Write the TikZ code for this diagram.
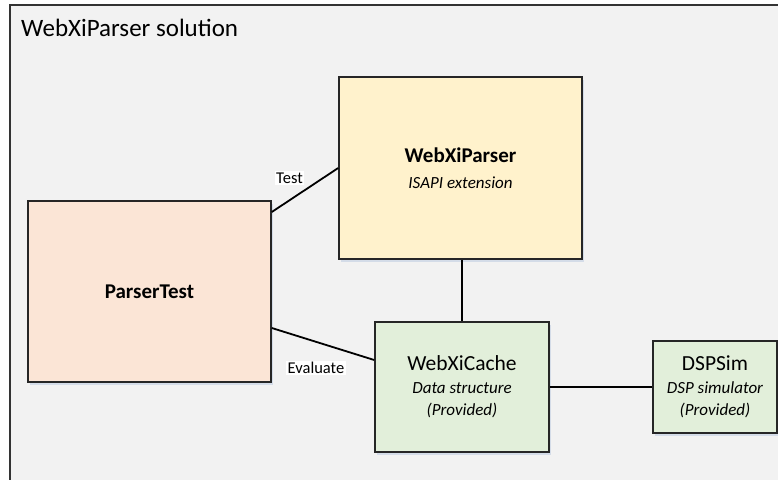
\documentclass[tikz,border=0pt]{standalone}
\usepackage{fontspec}
\setmainfont{Carlito}
\usetikzlibrary{shadows}
\definecolor{framebg}{HTML}{F2F2F2}
\definecolor{peach}{HTML}{FBE5D6}
\definecolor{cream}{HTML}{FFF2CC}
\definecolor{mint}{HTML}{E2EFDA}
\definecolor{shade}{HTML}{9DB3D6}
\tikzset{
  block/.style={draw=black!85, line width=1.6pt, align=center, inner sep=0pt,
    drop shadow={fill=shade, opacity=0.35, shadow xshift=2pt, shadow yshift=-3pt}},
  link/.style={draw=black, line width=1.8pt},
  tag/.style={fill=white, inner sep=1.5pt, font=\fontsize{16.5}{18}\selectfont}
}
\begin{document}
\begin{tikzpicture}[x=1pt, y=-1pt]
  \useasboundingbox (0,0) rectangle (778,479);
  \fill[white] (0,0) rectangle (778,479);
  % solution frame
  \draw[fill=framebg, draw=black!80, line width=1.2pt] (10,5) rectangle (800,500);
  \node[anchor=base west, inner sep=0pt, font=\fontsize{25}{28}\selectfont] (title) at (21,36) {WebXiParser solution};

  % components
  \node[block, fill=cream, minimum width=243pt, minimum height=182pt,
        font=\fontsize{17}{26}\selectfont] (parser) at (460.5,168)
    {{\fontsize{21}{26}\selectfont\bfseries WebXiParser}\\
     {\itshape ISAPI extension}};
  \node[block, fill=peach, minimum width=243pt, minimum height=181pt,
        font=\fontsize{21}{26}\selectfont\bfseries] (test) at (149.5,291.5)
    {ParserTest};
  \node[block, fill=mint, minimum width=174pt, minimum height=130pt,
        font=\fontsize{17}{22.5}\selectfont] (cache) at (462,387)
    {{\fontsize{21.5}{22.5}\selectfont WebXiCache}\\
     {\itshape Data structure}\\
     {\itshape (Provided)}};
  \node[block, fill=mint, minimum width=124pt, minimum height=92pt,
        font=\fontsize{17}{22.5}\selectfont] (dsp) at (715,387)
    {{\fontsize{21.5}{22.5}\selectfont DSPSim}\\
     {\itshape DSP simulator}\\
     {\itshape (Provided)}};

  % connectors
  \coordinate (tA) at (271,212);
  \coordinate (tB) at (339,168);
  \coordinate (eA) at (271,328);
  \coordinate (eB) at (375,360);
  \draw[link] (test.east |- tA) -- (parser.west |- tB);
  \draw[link] (test.east |- eA) -- (cache.west |- eB);
  \draw[link] (parser.south -| cache.north) -- (cache.north);
  \draw[link] (cache.east) -- (dsp.west);

  % connector labels
  \node[tag] (ltest) at (289.5,178) {Test};
  \node[tag] (leval) at (316,368) {Evaluate};
\end{tikzpicture}
\end{document}
